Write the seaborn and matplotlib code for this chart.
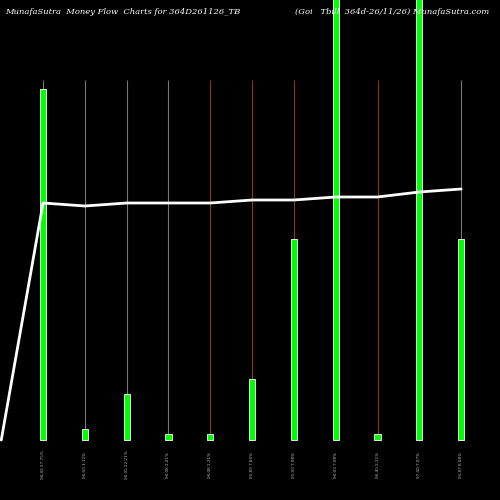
import matplotlib
matplotlib.use("Agg")
import matplotlib.pyplot as plt
import seaborn as sns
import pandas as pd

labels = ["96.02 27.75%", "96.03 1.12%", "96.05 22.21%", "96.08 2.21%", "96.08 2.21%",
          "95.89 7.86%", "95.93 7.98%", "96.03 7.98%", "96.45 2.21%", "97.60 7.97%", "95.87 8.08%"]
volume = [351, 11, 46, 6, 6, 61, 201, 480, 6, 480, 201]
price_x = [-1, 0, 1, 2, 3, 4, 5, 6, 7, 8, 9, 10]
price = [0, 237, 234, 237, 237, 237, 240, 240, 243, 243, 248, 251]
grid_colors = ["#777777", "#777777", "#777777", "#777777", "#8B3A0F", "#8B3A0F",
               "#8B3A0F", "#777777", "#8B3A0F", "#777777", "#777777"]

sns.set_style("dark")
fig = plt.figure(figsize=(5, 5), dpi=100, facecolor="black")
ax = fig.add_axes([0, 0, 1, 1])
ax.set_facecolor("black")
ax.set_xlim(-1.03, 10.93)
ax.set_ylim(-60, 440)

idx = list(range(len(volume)))
for i, c in zip(idx, grid_colors):
    ax.vlines(i, 0, 360, color=c, lw=0.8, zorder=0)

df = pd.DataFrame({"x": idx, "v": volume})
sns.barplot(data=df, x="x", y="v", native_scale=True, width=0.15,
            color="#00ff00", edgecolor="white", linewidth=0.6, saturation=1, ax=ax, zorder=2)
sns.lineplot(x=price_x, y=price, color="white", lw=2, ax=ax, zorder=3)

for i, l in zip(idx, labels):
    ax.text(i, -25, l, rotation=90, color="#cccccc", fontsize=3, ha="center", va="center",
            family="DejaVu Serif")
ax.text(0.01, 0.985, "MunafaSutra  Money Flow  Charts for 364D261126_TB", transform=ax.transAxes,
        color="white", fontsize=6, style="italic", family="DejaVu Serif", va="top")
ax.text(0.59, 0.985, "(Goi   Tbill  364d-26/11/26) MunafaSutra.com", transform=ax.transAxes,
        color="white", fontsize=6, style="italic", family="DejaVu Serif", va="top")
ax.set_axis_off()
fig.savefig("out.png", dpi=100, facecolor="black")
